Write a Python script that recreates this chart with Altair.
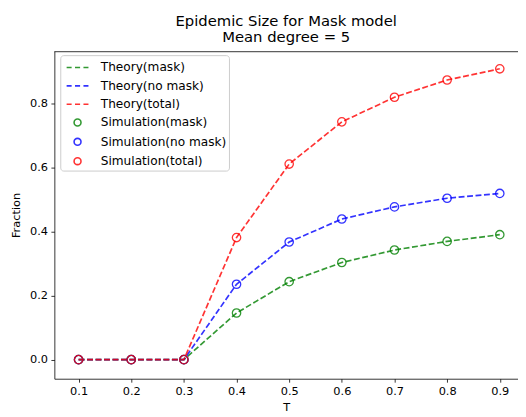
import altair as alt
import pandas as pd

T = [0.1, 0.2, 0.3, 0.4, 0.5, 0.6, 0.7, 0.8, 0.9]
theory_mask = [0.0, 0.0, 0.0, 0.146, 0.244, 0.304, 0.343, 0.370, 0.391]
theory_nomask = [0.0, 0.0, 0.0, 0.236, 0.368, 0.440, 0.478, 0.505, 0.520]
theory_total = [0.0, 0.0, 0.0, 0.382, 0.612, 0.744, 0.821, 0.875, 0.910]
sim_mask = [0.0, 0.0, 0.0, 0.146, 0.244, 0.304, 0.343, 0.370, 0.391]
sim_nomask = [0.0, 0.0, 0.0, 0.236, 0.368, 0.440, 0.478, 0.505, 0.520]
sim_total = [0.0, 0.0, 0.0, 0.382, 0.612, 0.744, 0.821, 0.875, 0.910]

labels = ["Theory(mask)", "Theory(no mask)", "Theory(total)",
          "Simulation(mask)", "Simulation(no mask)", "Simulation(total)"]
colors = ["#008000", "#0000ff", "#ff0000", "#008000", "#0000ff", "#ff0000"]
x_ticks = [0.1, 0.2, 0.3, 0.4, 0.5, 0.6, 0.7, 0.8, 0.9]
y_ticks = [0.0, 0.2, 0.4, 0.6, 0.8]

series = [theory_mask, theory_nomask, theory_total, sim_mask, sim_nomask, sim_total]
rows = []
for lab, vals in zip(labels, series):
    for t, v in zip(T, vals):
        rows.append({"T": t, "Fraction": v, "label": lab,
                     "kind": "theory" if lab.startswith("Theory") else "sim"})
df = pd.DataFrame(rows)

dash_path = "M-1.2,0H-0.65M-0.28,0H0.28M0.65,0H1.2"
circle_path = "M-0.38,0A0.38,0.38 0 1,1 0.38,0A0.38,0.38 0 1,1 -0.38,0Z"
shapes = [dash_path] * 3 + [circle_path] * 3

W, H = 470, 332
xscale = alt.Scale(domain=[0.054, 0.9346], nice=False, zero=False)
yscale = alt.Scale(domain=[-0.0596, 0.965], nice=False, zero=False)
cscale = alt.Scale(domain=labels, range=colors)
sscale = alt.Scale(domain=labels, range=shapes)

xaxis = alt.Axis(values=x_ticks, format=".1f", title="T", grid=False)
yaxis = alt.Axis(values=y_ticks, format=".1f", title="Fraction", grid=False)
leg = alt.Legend(title=None, orient="none", legendX=6, legendY=4)

base = alt.Chart(df)
X = alt.X("T:Q", scale=xscale, axis=xaxis)
Y = alt.Y("Fraction:Q", scale=yscale, axis=yaxis)

# legend carrier (no rows drawn; legend built from the scale domains)
legend_layer = base.transform_filter("false").mark_point(
    filled=False, size=500, strokeWidth=1.2, opacity=0.8
).encode(
    x=X, y=Y,
    color=alt.Color("label:N", scale=cscale, legend=leg),
    shape=alt.Shape("label:N", scale=sscale, legend=leg),
)

lines = base.transform_filter(alt.datum.kind == "theory").mark_line(
    strokeDash=[6, 2.6], strokeWidth=1.7, opacity=0.8
).encode(
    x=X, y=Y,
    color=alt.Color("label:N", scale=cscale, legend=None),
    detail="label:N",
)

points = base.transform_filter(alt.datum.kind == "sim").mark_point(
    filled=False, size=500, strokeWidth=1.3, opacity=0.8
).encode(
    x=X, y=Y,
    color=alt.Color("label:N", scale=cscale, legend=None),
    shape=alt.Shape("label:N", scale=sscale, legend=None),
)

top_rule = alt.Chart(pd.DataFrame({"k": [0]})).mark_rule(
    color="#000000", strokeWidth=0.8
).encode(x=alt.value(0), x2=alt.value(W), y=alt.value(0.5))

chart = alt.layer(legend_layer, lines, points, top_rule).properties(
    width=W, height=H,
    title=alt.TitleParams(
        text=["Epidemic Size for Mask model", "Mean degree = 5"],
        anchor="middle", frame="group", fontSize=15, fontWeight="normal",
        font="DejaVu Sans", color="#000000", lineHeight=17, offset=6,
    ),
    autosize=alt.AutoSizeParams(type="none"),
    padding={"left": 47, "top": 41, "right": 0, "bottom": 36},
).configure_view(stroke=None).configure_axis(
    labelFont="DejaVu Sans", titleFont="DejaVu Sans",
    labelFontSize=11.5, titleFontSize=11.5, titleFontWeight="normal",
    labelColor="#000000", titleColor="#000000",
    domainColor="#000000", domainWidth=0.8,
    tickColor="#000000", tickWidth=0.8, tickSize=3.5, labelPadding=3.5,
).configure_axisY(titlePadding=8).configure_axisX(titlePadding=5).configure_legend(
    labelFont="DejaVu Sans", labelFontSize=12.3, labelColor="#000000",
    symbolSize=340, symbolStrokeWidth=1.6, symbolOpacity=0.8,
    symbolOffset=5, labelOffset=13, padding=2, rowPadding=1.6,
    fillColor="rgba(255,255,255,0.8)", strokeColor="#cccccc", cornerRadius=3,
)

chart.save("out.html", embed_options={"renderer": "svg", "actions": False})
